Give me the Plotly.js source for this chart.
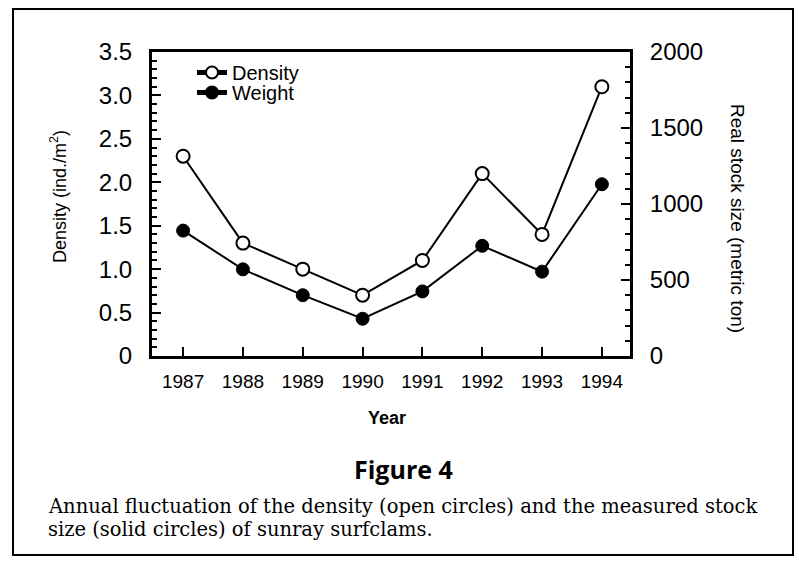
<!DOCTYPE html>
<html>
<head>
<meta charset="utf-8">
<script src="https://cdn.plot.ly/plotly-3.0.1.min.js"></script>
<style>
html,body{margin:0;padding:0;background:#fff;}
#chart{width:799px;height:568px;}
</style>
</head>
<body>
<div id="chart"></div>
<script>
// Data
const years = [1987, 1988, 1989, 1990, 1991, 1992, 1993, 1994];
const density = [2.3, 1.3, 1.0, 0.7, 1.1, 2.1, 1.4, 3.1];          // ind./m^2
const weight = [825, 570, 400, 245, 425, 725, 555, 1130];          // metric ton
const densityTicks = [0, 0.5, 1.0, 1.5, 2.0, 2.5, 3.0, 3.5];
const densityTickText = ['0', '0.5', '1.0', '1.5', '2.0', '2.5', '3.0', '3.5'];
const weightTicks = [0, 500, 1000, 1500, 2000];
const weightTickText = ['0', '500', '1000', '1500', '2000'];

const SANS = 'Liberation Sans, Arial, Helvetica, sans-serif';

const traces = [
  {
    x: years, y: density, name: 'Density', type: 'scatter', mode: 'lines+markers',
    yaxis: 'y', legend: 'legend',
    line: {color: '#000', width: 2},
    marker: {symbol: 'circle', size: 13, color: '#fff', line: {color: '#000', width: 2}}
  },
  {
    x: years, y: weight, name: 'Weight', type: 'scatter', mode: 'lines+markers',
    yaxis: 'y2', legend: 'legend2',
    line: {color: '#000', width: 2},
    marker: {symbol: 'circle', size: 13, color: '#000', line: {color: '#000', width: 1}}
  }
];

const L = 152, R = 630, T = 52, B = 356;
const W = 799, H = 568;
const pw = R - L, ph = B - T;
const px = v => (v - L) / pw;
const py = v => (B - v) / ph;

const legendBase = {
  xanchor: 'left', yanchor: 'top',
  bgcolor: 'rgba(0,0,0,0)', borderwidth: 0,
  font: {family: SANS, size: 20, color: '#000'},
  tracegroupgap: 0, itemsizing: 'constant'
};

const layout = {
  width: W, height: H,
  margin: {l: L, r: W - R, t: T, b: H - B, pad: 0},
  paper_bgcolor: '#fff', plot_bgcolor: '#fff',
  showlegend: true,
  font: {family: SANS, color: '#000'},
  xaxis: {
    range: [1986.48, 1994.47],
    tickmode: 'array', tickvals: years, ticktext: years.map(String),
    ticks: 'inside', ticklen: 9, tickwidth: 2, tickcolor: '#000',
    showline: true, linewidth: 3, linecolor: '#000', mirror: true,
    showgrid: false, zeroline: false,
    tickfont: {family: SANS, size: 19, color: '#000'},
    ticklabelstandoff: 6
  },
  yaxis: {
    range: [0, 3.5],
    tickmode: 'array', tickvals: densityTicks, ticktext: densityTickText,
    ticks: 'inside', ticklen: 9, tickwidth: 2, tickcolor: '#000',
    minor: {tickmode: 'linear', tick0: 0, dtick: 0.1, ticks: 'inside', ticklen: 5, tickwidth: 2, tickcolor: '#000', showgrid: false},
    showline: true, linewidth: 3, linecolor: '#000', mirror: true,
    showgrid: false, zeroline: false,
    tickfont: {family: SANS, size: 24, color: '#000'},
    ticklabelstandoff: 12
  },
  yaxis2: {
    range: [0, 2000], overlaying: 'y', side: 'right',
    tickmode: 'array', tickvals: weightTicks, ticktext: weightTickText,
    ticks: 'inside', ticklen: 9, tickwidth: 2, tickcolor: '#000',
    minor: {tickmode: 'linear', tick0: 0, dtick: 100, ticks: 'inside', ticklen: 5, tickwidth: 2, tickcolor: '#000', showgrid: false},
    showline: true, linewidth: 3, linecolor: '#000',
    showgrid: false, zeroline: false,
    tickfont: {family: SANS, size: 24, color: '#000'},
    ticklabelstandoff: 12
  },
  legend: Object.assign({x: px(192), y: py(53)}, legendBase),
  legend2: Object.assign({x: px(192), y: py(73)}, legendBase),
  shapes: [
    {type: 'rect', xref: 'paper', yref: 'paper',
     x0: px(13), x1: px(793), y0: py(555), y1: py(9),
     line: {color: '#000', width: 2}, fillcolor: 'rgba(0,0,0,0)', layer: 'below'}
  ],
  annotations: [
    {text: 'Density (ind./m<sup>2</sup>)', xref: 'paper', yref: 'paper',
     x: px(58), y: py(197), xanchor: 'center', yanchor: 'middle', textangle: -90,
     showarrow: false, font: {family: SANS, size: 18, color: '#000'}},
    {text: 'Real stock size (metric ton)', xref: 'paper', yref: 'paper',
     x: px(738), y: py(218), xanchor: 'center', yanchor: 'middle', textangle: 90,
     showarrow: false, font: {family: SANS, size: 19, color: '#000'}},
    {text: '<b>Year</b>', xref: 'paper', yref: 'paper',
     x: px(387), y: py(418), xanchor: 'center', yanchor: 'middle',
     showarrow: false, font: {family: SANS, size: 18, color: '#000'}},
    {text: '<b>Figure 4</b>', xref: 'paper', yref: 'paper',
     x: px(403), y: py(469), xanchor: 'center', yanchor: 'middle',
     showarrow: false, font: {family: 'Open Sans, Noto Sans, sans-serif', size: 25, color: '#000'}},
    {text: 'Annual fluctuation of the density (open circles) and the measured stock', xref: 'paper', yref: 'paper',
     x: px(46), y: py(506), xanchor: 'left', yanchor: 'middle',
     showarrow: false, font: {family: 'DejaVu Serif, serif', size: 19.5, color: '#000'}},
    {text: 'size (solid circles) of sunray surfclams.', xref: 'paper', yref: 'paper',
     x: px(46), y: py(529), xanchor: 'left', yanchor: 'middle',
     showarrow: false, font: {family: 'DejaVu Serif, serif', size: 19.5, color: '#000'}}
  ]
};

Plotly.newPlot('chart', traces, layout, {staticPlot: true, displayModeBar: false});
</script>
</body>
</html>
